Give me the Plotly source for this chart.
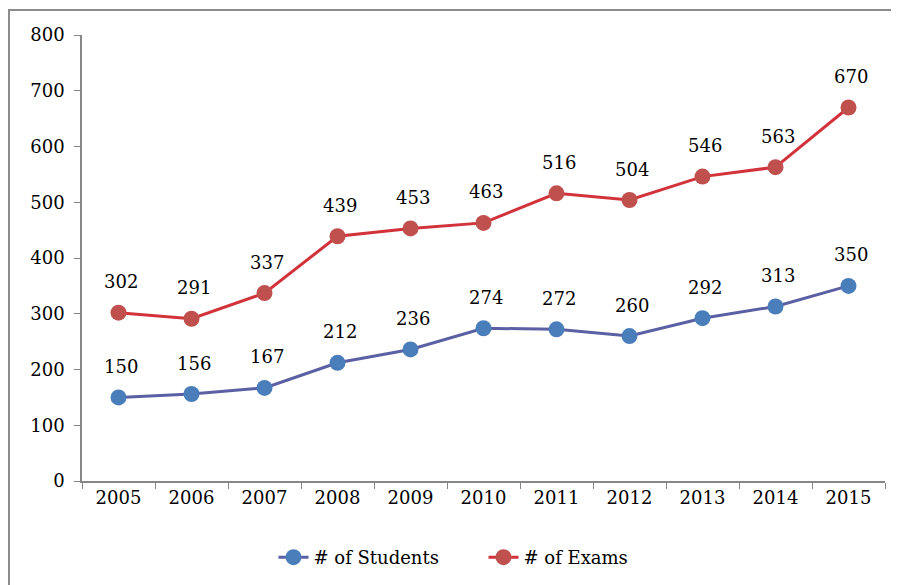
import plotly.graph_objects as go

years = ["2005", "2006", "2007", "2008", "2009", "2010", "2011", "2012", "2013", "2014", "2015"]
students = [150, 156, 167, 212, 236, 274, 272, 260, 292, 313, 350]
exams = [302, 291, 337, 439, 453, 463, 516, 504, 546, 563, 670]

FONT = "DejaVu Serif"
FS = 18

fig = go.Figure()
fig.add_trace(go.Scatter(
    x=years, y=students, name="# of Students",
    mode="lines+markers",
    line=dict(color="#5B5FA3", width=3),
    marker=dict(color="#4A7EBB", size=16),
))
fig.add_trace(go.Scatter(
    x=years, y=exams, name="# of Exams",
    mode="lines+markers",
    line=dict(color="#D2323A", width=3),
    marker=dict(color="#C0504D", size=16),
))

annotations = []
for series in (students, exams):
    for i, v in enumerate(series):
        annotations.append(dict(x=i, y=v, xref="x", yref="y", text=str(v), showarrow=False,
                                yshift=31, xshift=2,
                                font=dict(family=FONT, size=FS, color="#000000")))

fig.update_layout(
    width=899, height=585,
    margin=dict(l=74, r=22, t=27, b=112),
    paper_bgcolor="white", plot_bgcolor="white",
    font=dict(family=FONT, size=FS, color="#000000"),
    showlegend=True,
    legend=dict(orientation="h", x=0.5, xanchor="center", y=-0.13, yanchor="top",
                entrywidth=165, entrywidthmode="pixels",
                font=dict(family=FONT, size=FS, color="#000000")),
    xaxis=dict(type="category", range=[-0.5, 10.5], showline=True, linecolor="#868686", linewidth=1.5,
               ticks="outside", ticklen=6, tickcolor="#868686", tickson="boundaries",
               showgrid=False, zeroline=False, tickfont=dict(family=FONT, size=FS)),
    yaxis=dict(range=[0, 800], dtick=100, showline=True, linecolor="#868686", linewidth=1.5,
               ticks="outside", ticklen=6, tickcolor="#868686",
               showgrid=False, zeroline=False, tickfont=dict(family=FONT, size=FS),
               ticklabelstandoff=6),
    annotations=annotations,
    shapes=[dict(type="rect", xref="paper", yref="paper",
                 x0=-0.0909, x1=1.04, y0=-0.3, y1=1.056,
                 line=dict(color="#8C8C8C", width=2), fillcolor="rgba(0,0,0,0)", layer="below")],
)

fig.write_html("out.html")
